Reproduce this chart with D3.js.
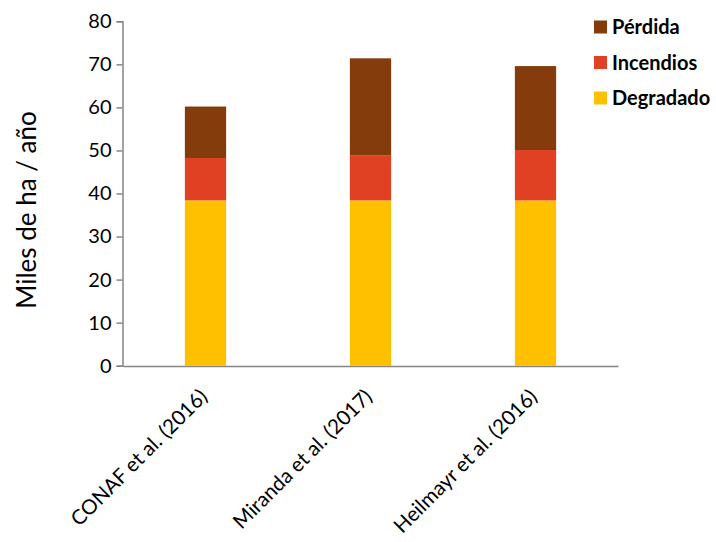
<!DOCTYPE html>
<html><head><meta charset="utf-8">
<script src="https://cdn.jsdelivr.net/npm/d3@7"></script>
<style>body{margin:0;background:#fff}svg{display:block}</style>
</head><body>
<script>
const categories = ["CONAF et al. (2016)", "Miranda et al. (2017)", "Heilmayr et al. (2016)"];
const degradado = [38.4, 38.4, 38.4];
const incendios = [9.85, 10.4, 11.7];
const perdida = [11.95, 22.6, 19.5];
const seriesNames = ["Degradado", "Incendios", "Pérdida"];
const seriesColors = ["#FFC000", "#E04122", "#843C0C"];
const yTicks = [0, 10, 20, 30, 40, 50, 60, 70, 80];

const W = 716, H = 542;
const svg = d3.select("body").append("svg").attr("width", W).attr("height", H);
const font = "Lato, 'Open Sans', sans-serif";

const x = d3.scaleBand().domain(categories).range([123, 618]).paddingInner(0.75).paddingOuter(0.375);
const y = d3.scaleLinear().domain([0, 80]).range([365.7, 21.3]);

const rows = categories.map((c, i) => ({cat: c, Degradado: degradado[i], Incendios: incendios[i], "Pérdida": perdida[i]}));
const stacked = d3.stack().keys(seriesNames)(rows);

svg.append("g").selectAll("g").data(stacked).join("g")
  .attr("fill", (d, i) => seriesColors[i])
  .selectAll("rect").data(d => d).join("rect")
  .attr("x", d => x(d.data.cat))
  .attr("width", x.bandwidth())
  .attr("y", d => y(d[1]))
  .attr("height", d => y(d[0]) - y(d[1]));

// Y axis
const yAxis = svg.append("g").attr("transform", "translate(122.5,0)")
  .call(d3.axisLeft(y).tickValues(yTicks).tickSize(6).tickPadding(5));
yAxis.select(".domain").attr("stroke", "#868686").attr("stroke-width", 1.5);
yAxis.selectAll(".tick line").attr("stroke", "#868686").attr("stroke-width", 1.5);
yAxis.selectAll("text").attr("font-family", font).attr("font-size", 20).attr("fill", "#000");

// X axis
const xAxis = svg.append("g").attr("transform", "translate(0,366)")
  .call(d3.axisBottom(x).tickSize(0).tickSizeOuter(0));
xAxis.select(".domain").attr("stroke", "#868686").attr("stroke-width", 1.5);
xAxis.selectAll("text")
  .attr("font-family", font).attr("font-size", 20.5).attr("fill", "#000")
  .attr("text-anchor", "end")
  .attr("dy", null).attr("y", 0)
  .attr("transform", "translate(3,32) rotate(-45)");

// Y title
svg.append("text")
  .attr("transform", "translate(36,210) rotate(-90)")
  .attr("text-anchor", "middle")
  .attr("font-family", font).attr("font-size", 26).attr("fill", "#000")
  .text("Miles de ha / año");

// Legend
const legendItems = seriesNames.slice().reverse();
const legendColors = seriesColors.slice().reverse();
const lg = svg.append("g");
legendItems.forEach((n, i) => {
  const cy = 27 + i * 35.5;
  lg.append("rect").attr("x", 594).attr("y", cy - 6.5).attr("width", 13).attr("height", 13).attr("fill", legendColors[i]);
  lg.append("text").attr("x", 612).attr("y", cy).attr("dy", "0.36em")
    .attr("font-family", font).attr("font-weight", "bold").attr("font-size", 20).attr("fill", "#000").text(n);
});
</script>
</body></html>
